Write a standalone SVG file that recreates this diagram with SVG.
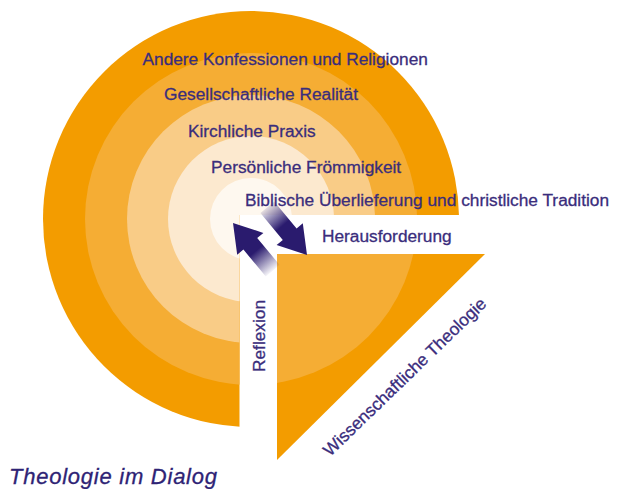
<svg xmlns="http://www.w3.org/2000/svg" width="617" height="489" viewBox="0 0 617 489">
<defs>
<style>
.t{font-family:"Liberation Sans",Arial,sans-serif;font-size:17.3px;fill:#3a2d7c;stroke:#3a2d7c;stroke-width:0.3px}
.r1{fill:#f39c00}.r2{fill:#f5ad34}.r3{fill:#f9cc87}.r4{fill:#fce9cf}.r5{fill:#fef8ef}
</style>
<clipPath id="cutQuad"><path d="M0 0H617V215H239.5V489H0Z"/></clipPath>
<clipPath id="triClip"><polygon points="277,254 485,254 277,460"/></clipPath>
<linearGradient id="g1" gradientUnits="userSpaceOnUse" x1="250" y1="244" x2="273" y2="272">
<stop offset="0" stop-color="#2a1b6e"/><stop offset="0.25" stop-color="#2a1b6e"/><stop offset="1" stop-color="#2a1b6e" stop-opacity="0"/>
</linearGradient>
<linearGradient id="g2" gradientUnits="userSpaceOnUse" x1="290" y1="234" x2="266" y2="206">
<stop offset="0" stop-color="#2a1b6e"/><stop offset="0.3" stop-color="#2a1b6e"/><stop offset="1" stop-color="#2a1b6e" stop-opacity="0.05"/>
</linearGradient>
</defs>
<rect width="617" height="489" fill="#fff"/>

<g id="rings" clip-path="url(#cutQuad)">
<circle class="r1" cx="251" cy="219" r="208"/>
<circle class="r2" cx="251" cy="219" r="166"/>
<circle class="r3" cx="251" cy="219" r="124"/>
<circle class="r4" cx="251" cy="219" r="83"/>
<circle class="r5" cx="251" cy="219" r="41"/>
</g>

<g id="triangle">
<polygon class="r1" points="277,254 485,254 277,460"/>
<circle class="r2" cx="251" cy="219" r="166" clip-path="url(#triClip)"/>
</g>

<g id="labels">
<text class="t" x="142.5" y="64.5">Andere Konfessionen und Religionen</text>
<text class="t" x="164" y="99.5">Gesellschaftliche Realität</text>
<text class="t" x="188" y="136.7">Kirchliche Praxis</text>
<text class="t" x="211" y="173.3">Persönliche Frömmigkeit</text>
<text class="t" x="245" y="205.8">Biblische Überlieferung und christliche Tradition</text>
</g>

<g id="connectors">
<g id="arrow-reflexion">
<polygon fill="url(#g1)" points="233,223 263.4,232.9 257.2,238 279.6,264.9 265.8,276.5 243.4,249.6 237.2,254.7"/>
</g>
<g id="arrow-herausforderung">
<polygon fill="url(#g2)" points="307,255 276.6,245.1 282.8,240 260.4,213.1 274.2,201.5 296.6,228.4 302.8,223.3"/>
</g>
</g>

<g id="edge-labels">
<text class="t" x="322" y="242">Herausforderung</text>
<text class="t" transform="translate(265,372) rotate(-90)">Reflexion</text>
<text class="t" transform="translate(330,457) rotate(-44)">Wissenschaftliche Theologie</text>
</g>

<text id="title" x="9" y="484" font-family="Liberation Sans, Arial, sans-serif" font-style="italic" font-size="22" fill="#2e2375" stroke="#2e2375" stroke-width="0.3" textLength="208">Theologie im Dialog</text>
</svg>
